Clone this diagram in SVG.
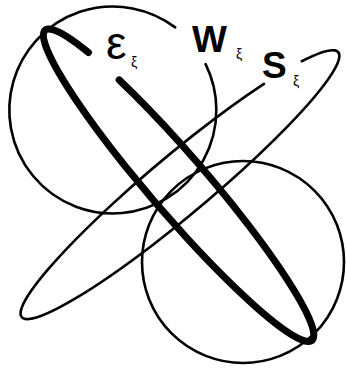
<svg xmlns="http://www.w3.org/2000/svg" width="346" height="369" viewBox="0 0 346 369">
<style>
.thin{fill:none;stroke:#000;stroke-width:2.6;stroke-linecap:round}
.thick{fill:none;stroke:#000;stroke-width:7;stroke-linecap:round;stroke-linejoin:round}
.big{font-family:"Liberation Sans",Arial,sans-serif;font-weight:bold;font-size:37px;fill:#000}
.eps{font-family:"Liberation Sans",Arial,sans-serif;font-size:46px;fill:#000}
.sub{font-family:"Liberation Sans",Arial,sans-serif;font-size:14px;fill:#000}
</style>
<rect width="346" height="369" fill="#fff"/>
<g id="connectors">
<path id="W-circle" class="thin" d="M205.6 64.1 A103.5 103.5 0 1 1 175.2 27.4"/>
<circle id="lower-circle" class="thin" cx="243" cy="262" r="101"/>
<path id="S-ellipse" class="thin" d="M301.75 61.25 A206.4 30 -39.94 1 1 263.95 83.83"/>
<path id="eps-ellipse" class="thick" d="M119.14 79.84 A204.6 29 49.3 1 1 88.48 52.53"/>
</g>
<g id="label-eps"><text class="eps" x="106" y="59">ε</text><text class="sub" x="131" y="67">ξ</text></g>
<g id="label-W"><text class="big" x="192" y="52">W</text><text class="sub" x="236" y="59">ξ</text></g>
<g id="label-S"><text class="big" x="262" y="78">S</text><text class="sub" x="293" y="86">ξ</text></g>
</svg>
